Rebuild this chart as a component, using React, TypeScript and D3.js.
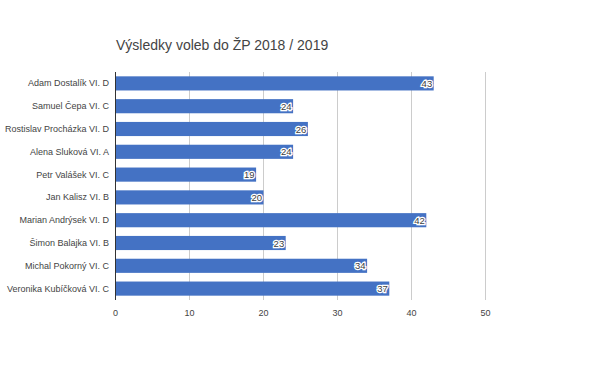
import React from "react";
import * as d3 from "d3";

const names = [
  "Adam Dostalík VI. D",
  "Samuel Čepa VI. C",
  "Rostislav Procházka VI. D",
  "Alena Sluková VI. A",
  "Petr Valášek VI. C",
  "Jan Kalisz VI. B",
  "Marian Andrýsek VI. D",
  "Šimon Balajka VI. B",
  "Michal Pokorný VI. C",
  "Veronika Kubíčková VI. C",
];
const votes = [43, 24, 26, 24, 19, 20, 42, 23, 34, 37];
const ticks = [0, 10, 20, 30, 40, 50];

const font = "'Liberation Sans', Arial, sans-serif";

export default function App() {
  const x = d3.scaleLinear().domain([0, 50]).range([115.5, 485.5]);
  const y = d3.scaleBand().domain(names).range([72, 300]).paddingInner(0.38).paddingOuter(0.19);

  return (
    <svg width={600} height={371} style={{ position: "absolute", left: 0, top: 0 }}>
      <rect width={600} height={371} fill="#fff" />
      <text x={116} y={50} fontFamily={font} fontSize={14} fill="#444">
        Výsledky voleb do ŽP 2018 / 2019
      </text>
      {ticks.map((t) => (
        <g key={t}>
          {t > 0 && <line x1={x(t)} x2={x(t)} y1={72} y2={300} stroke="#ccc" />}
          <text x={x(t)} y={316} textAnchor="middle" fontFamily={font} fontSize={9} fill="#444">
            {t}
          </text>
        </g>
      ))}
      {names.map((n, i) => (
        <g key={n}>
          <rect x={x(0)} y={y(n)} width={x(votes[i]) - x(0)} height={y.bandwidth()} fill="#4472c4" />
          <text
            x={109}
            y={(y(n) as number) + y.bandwidth() / 2 + 3}
            textAnchor="end"
            fontFamily={font}
            fontSize={9}
            fill="#444"
          >
            {n}
          </text>
          <text
            x={x(votes[i]) - 1.5}
            y={(y(n) as number) + y.bandwidth() / 2 + 3.5}
            textAnchor="end"
            fontFamily={font}
            fontSize={9.5}
            fill="#404040"
            stroke="#fff"
            strokeWidth={2.5}
            paintOrder="stroke"
          >
            {votes[i]}
          </text>
        </g>
      ))}
      <line x1={x(0)} x2={x(0)} y1={72} y2={300} stroke="#333" />
    </svg>
  );
}
